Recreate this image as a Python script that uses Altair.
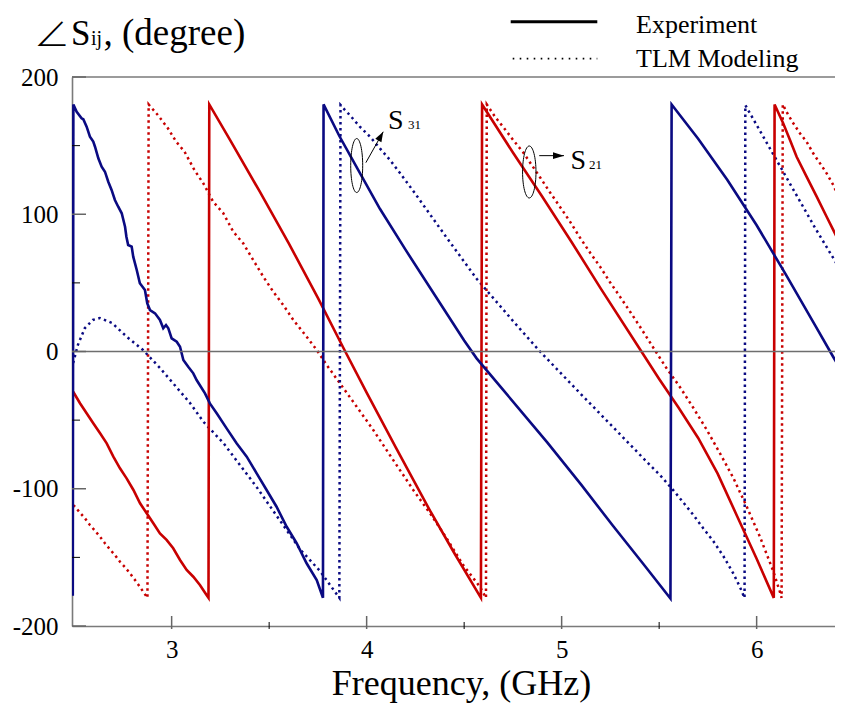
import altair as alt
import pandas as pd

RED = "#c80000"
BLUE = "#0a0a82"
FONT = "Liberation Serif"

# ---- data: (frequency GHz, phase degree) ----
s31_exp = [
    (2.493, -178), (2.496, 180), (2.513, 174.7), (2.538, 169.9), (2.547, 169.2), (2.564, 163.8),
    (2.581, 156.5), (2.598, 152.9), (2.607, 149.2), (2.624, 140.8), (2.641, 134.7), (2.658, 131),
    (2.675, 123.7), (2.692, 117.7), (2.709, 110.4), (2.726, 105.5), (2.744, 100.7), (2.761, 90.9),
    (2.768, 83.6), (2.777, 77.6), (2.795, 76.4), (2.803, 69.1), (2.821, 59.4), (2.837, 49.7),
    (2.863, 44.8), (2.875, 35.1), (2.889, 30.2), (2.915, 27.8), (2.94, 23), (2.957, 16.9),
    (2.971, 19.3), (2.983, 16.9), (3.0, 9.6), (3.026, 7.1), (3.043, 3.5), (3.06, -6.2),
    (3.085, -11.1), (3.111, -15.9), (3.128, -20.8), (3.171, -30.5), (3.196, -37.8), (3.231, -45),
    (3.282, -56), (3.333, -66.9), (3.385, -76.6), (3.436, -88.8), (3.487, -100.9), (3.538, -113.1),
    (3.59, -127.7), (3.641, -139.7), (3.692, -154.3), (3.744, -166.5), (3.776, -179.4),
    (3.779, 180), (3.86, 157), (3.95, 134), (4.068, 104), (4.2, 74), (4.35, 41), (4.5, 8),
    (4.564, -5), (4.7, -28), (4.925, -66), (5.1, -97), (5.263, -127), (5.42, -155), (5.558, -180),
    (5.564, 180), (5.7, 155), (5.85, 125), (6.0, 92), (6.15, 56), (6.3, 19), (6.393, -4),
    (6.443, -16),
]

s31_model = [
    (2.495, -8.4), (2.519, 4.7), (2.555, 17.1), (2.596, 23), (2.632, 24.4), (2.694, 20.8),
    (2.771, 10.6), (2.853, 1.1), (2.94, -12), (3.094, -37.5), (3.164, -51.4), (3.267, -67),
    (3.336, -80), (3.437, -99), (3.54, -120), (3.658, -144), (3.761, -160), (3.86, -179.5),
    (3.866, 179.6), (3.889, 175.9), (3.914, 172.2), (3.965, 163.8), (4.017, 156.5), (4.068, 148),
    (4.12, 139.5), (4.171, 130), (4.239, 117), (4.41, 83), (4.564, 53), (4.752, 22), (4.889, 0),
    (4.923, -5), (5.078, -28), (5.263, -55), (5.436, -80.3), (5.504, -90), (5.572, -101),
    (5.624, -110), (5.675, -119), (5.726, -128.8), (5.777, -138), (5.829, -149),
    (5.88, -161.6), (5.914, -171.5), (5.938, -179.5),
    (5.942, 179.5), (5.96, 175), (6.0, 165), (6.1, 140), (6.2, 115), (6.3, 90), (6.427, 60),
    (6.443, 56),
]

s21_exp = [
    (2.495, -29.3), (2.53, -37.7), (2.564, -45), (2.598, -52.3), (2.633, -59.6), (2.667, -66.9),
    (2.701, -76.6), (2.735, -85.1), (2.769, -92.4), (2.804, -100.9), (2.838, -110.6),
    (2.872, -117.9), (2.906, -125.2), (2.94, -132.5), (2.974, -137.3), (3.008, -143.4),
    (3.043, -151.9), (3.077, -159.2), (3.111, -164.1), (3.145, -170.1), (3.179, -177.4),
    (3.189, -179.5),
    (3.193, 180), (3.3, 154), (3.45, 117), (3.6, 79), (3.75, 39), (3.883, 2), (4.0, -30),
    (4.15, -70), (4.325, -116), (4.45, -147), (4.586, -179.5),
    (4.592, 180), (4.75, 145), (4.9, 113), (5.05, 80), (5.2, 46), (5.4, 2), (5.5, -20),
    (5.6, -41), (5.7, -63), (5.8, -89), (5.9, -120), (6.0, -151), (6.088, -179.5),
    (6.092, 180), (6.136, 166.3), (6.171, 154.1), (6.205, 141.9), (6.256, 127.4), (6.308, 112.8),
    (6.359, 98.2), (6.41, 83.6), (6.443, 76.4),
]

s21_model = [
    (2.495, -112), (2.504, -113.1), (2.53, -117.4), (2.555, -121.5), (2.581, -126.4),
    (2.607, -130.6), (2.632, -134.9), (2.658, -139.7), (2.683, -144.1), (2.709, -148.3),
    (2.735, -153.2), (2.761, -157.2), (2.786, -161.6), (2.812, -166.5), (2.837, -171.4),
    (2.854, -175), (2.876, -179.5),
    (2.882, 180), (2.929, 172.3), (2.981, 162.6), (3.023, 152.9), (3.066, 145.6), (3.117, 132.2),
    (3.162, 122.6), (3.213, 109.1), (3.265, 100.7), (3.316, 87.3), (3.367, 78.8), (3.418, 66.7),
    (3.47, 54.5), (3.521, 43.6), (3.572, 33.9), (3.624, 23), (3.692, 10.8), (3.744, 1.1),
    (3.795, -9.8), (3.863, -23.2), (3.949, -40.2), (4.034, -57.2), (4.119, -75.4),
    (4.239, -100.9), (4.325, -117.9), (4.41, -136.1), (4.495, -155.6), (4.581, -171.4),
    (4.612, -179.5),
    (4.616, 180), (4.658, 171.1), (4.709, 162), (4.752, 154), (4.803, 145), (4.846, 136),
    (4.889, 127), (4.94, 116), (4.991, 105.5), (5.043, 94.6), (5.094, 83), (5.146, 72),
    (5.197, 61.8), (5.248, 50.5), (5.299, 40), (5.351, 29), (5.402, 18), (5.478, 1),
    (5.538, -12.2), (5.607, -26), (5.675, -41), (5.744, -57), (5.812, -74.2), (5.88, -92),
    (5.949, -113), (6.017, -135), (6.085, -160), (6.119, -175), (6.128, -179.5),
    (6.134, 180), (6.162, 172.3), (6.188, 166.3), (6.222, 159), (6.256, 152.9), (6.29, 144.4),
    (6.325, 137.1), (6.359, 129.8), (6.393, 121.3), (6.427, 110.4), (6.443, 106),
]

x_major = [3, 4, 5, 6]
x_minor = [3.5, 4.5, 5.5]
y_major = [-200, -100, 0, 100, 200]
y_minor = [-150, -50, 50, 150]
legend_labels = ["Experiment", "TLM Modeling"]

# annotation anchors (data coordinates)
ellipses = pd.DataFrame({"f": [3.949, 4.834], "deg": [135.5, 130.8]})
arrow1 = pd.DataFrame({"f": [3.996], "deg": [137.6], "f2": [4.085], "deg2": [160.1]})
arrow2 = pd.DataFrame({"f": [4.885], "deg": [142.7], "f2": [5.012], "deg2": [142.7]})
labels_big = pd.DataFrame({"f": [4.109, 5.046], "deg": [162.1, 132.8], "t": ["S", "S"]})
labels_sub = pd.DataFrame({"f": [4.212, 5.140], "deg": [162.1, 132.8], "t": ["31", "21"]})

PW, PH = 763, 549          # plot area (page: x 72..835, y 77..626)
F0 = 2.489
F1 = F0 + PW / 195.0       # 195 px per GHz


def frame(pairs, name):
    return pd.DataFrame({
        "f": [p[0] for p in pairs],
        "deg": [p[1] for p in pairs],
        "i": list(range(len(pairs))),
        "series": name,
    })


exp_df = pd.concat([frame(s21_exp, "S21"), frame(s31_exp, "S31")], ignore_index=True)
mod_df = pd.concat([frame(s21_model, "S21"), frame(s31_model, "S31")], ignore_index=True)

xs = alt.Scale(domain=[F0, F1], nice=False, zero=False)
ys = alt.Scale(domain=[-200, 200], nice=False, zero=False)

xaxis = alt.Axis(values=x_major, ticks=False, tickSize=0, labelPadding=11, labelFontSize=25,
                 labelFont=FONT, labelColor="black", labelFlush=False, domainColor="#7a7a7a",
                 domainWidth=1.6, grid=False, title="Frequency, (GHz)", titleFontSize=36,
                 titleFont=FONT, titleFontWeight="normal", titleColor="black", titleX=389,
                 titleY=68, titleAlign="center", titleBaseline="alphabetic")
yaxis = alt.Axis(values=y_major, ticks=False, tickSize=0, labelPadding=14, labelFontSize=25,
                 labelFont=FONT, labelColor="black", labelFlush=False, domainColor="#7a7a7a",
                 domainWidth=1.6, grid=False, title=None, labelExpr="'' + datum.value")

X = alt.X("f:Q", scale=xs, axis=xaxis)
Y = alt.Y("deg:Q", scale=ys, axis=yaxis)
color = alt.Color("series:N", scale=alt.Scale(domain=["S21", "S31"], range=[RED, BLUE]), legend=None)

model = alt.Chart(mod_df).mark_line(strokeWidth=2.5, strokeDash=[2.4, 3.6], clip=True).encode(
    x=X, y=Y, color=color, detail="series:N", order="i:Q")
exper = alt.Chart(exp_df).mark_line(strokeWidth=2.6, clip=True).encode(
    x=X, y=Y, color=color, detail="series:N", order="i:Q")

zero = alt.Chart(pd.DataFrame({"deg": [0]})).mark_rule(color="#6e6e6e", strokeWidth=1.6).encode(
    y=Y, x=alt.value(0), x2=alt.value(PW))
top = alt.Chart(pd.DataFrame({"deg": [200]})).mark_rule(color="#7a7a7a", strokeWidth=1.6).encode(
    y=Y, x=alt.value(0), x2=alt.value(PW))

yt_major = alt.Chart(pd.DataFrame({"deg": y_major})).mark_rule(color="#666", strokeWidth=1.5).encode(
    y=Y, x=alt.value(0), x2=alt.value(14))
yt_minor = alt.Chart(pd.DataFrame({"deg": y_minor})).mark_rule(color="black", strokeWidth=1).encode(
    y=Y, x=alt.value(0), x2=alt.value(8))
xt_major = alt.Chart(pd.DataFrame({"f": x_major})).mark_rule(color="#666", strokeWidth=1.5).encode(
    x=X, y=alt.value(PH - 10), y2=alt.value(PH + 3))
xt_minor = alt.Chart(pd.DataFrame({"f": x_minor})).mark_rule(color="black", strokeWidth=1).encode(
    x=X, y=alt.value(PH - 4), y2=alt.value(PH + 3))


def ellipse_path(a):
    k = 0.5523
    return (f"M {a:.3f},0 C {a:.3f},{k} {k*a:.3f},1 0,1 C {-k*a:.3f},1 {-a:.3f},{k} {-a:.3f},0 "
            f"C {-a:.3f},{-k} {-k*a:.3f},-1 0,-1 C {k*a:.3f},-1 {a:.3f},{-k} {a:.3f},0 Z")


ell1 = alt.Chart(ellipses.iloc[[0]]).mark_point(shape=ellipse_path(0.222), size=2916, filled=False,
                                                 stroke="black", strokeWidth=1, opacity=1).encode(x=X, y=Y)
ell2 = alt.Chart(ellipses.iloc[[1]]).mark_point(shape=ellipse_path(0.258), size=2704, filled=False,
                                                 stroke="black", strokeWidth=1, opacity=1).encode(x=X, y=Y)

arr1 = alt.Chart(arrow1).mark_rule(color="black", strokeWidth=1).encode(
    x=X, y=Y, x2="f2:Q", y2="deg2:Q")
arr2 = alt.Chart(arrow2).mark_rule(color="black", strokeWidth=1).encode(
    x=X, y=Y, x2="f2:Q", y2="deg2:Q")
head1 = alt.Chart(arrow1).mark_point(shape="M 0,0 L -0.35,1 L 0.35,1 Z", size=400, filled=True,
                                     color="black", opacity=1, angle=29.2).encode(
    x=alt.X("f2:Q", scale=xs, axis=xaxis), y=alt.Y("deg2:Q", scale=ys, axis=yaxis))
head2 = alt.Chart(arrow2).mark_point(shape="M 0,0 L -0.3,1 L 0.3,1 Z", size=484, filled=True,
                                     color="black", opacity=1, angle=90).encode(
    x=alt.X("f2:Q", scale=xs, axis=xaxis), y=alt.Y("deg2:Q", scale=ys, axis=yaxis))

sbig = alt.Chart(labels_big).mark_text(font=FONT, fontSize=28, align="left", baseline="alphabetic",
                                       color="black").encode(x=X, y=Y, text="t:N")
ssub = alt.Chart(labels_sub).mark_text(font=FONT, fontSize=13, align="left", baseline="alphabetic",
                                       color="black").encode(x=X, y=Y, text="t:N")

one = pd.DataFrame({"a": [0]})


def label(txt, x, y, size, font=FONT, weight="normal"):
    return alt.Chart(one).mark_text(text=txt, font=font, fontSize=size, fontWeight=weight,
                                    align="left", baseline="alphabetic", color="black").encode(
        x=alt.value(x), y=alt.value(y))


t_angle = label("∠", -38, -30, 36, font="Noto Sans CJK JP", weight=300)
t_S = label("S", -1, -32, 35)
t_ij = label("ij", 19, -32, 20)
t_rest = label(", (degree)", 31.5, -32, 37)

leg_solid = alt.Chart(one).mark_rule(color="black", strokeWidth=3).encode(
    x=alt.value(438.7), x2=alt.value(525.3), y=alt.value(-55.3))
leg_dot = alt.Chart(one).mark_rule(color="black", strokeWidth=1.8, strokeDash=[1.6, 5.4]).encode(
    x=alt.value(440.7), x2=alt.value(525.3), y=alt.value(-18.3))
leg_t1 = label(legend_labels[0], 564, -44.3, 26)
leg_t2 = label(legend_labels[1], 564, -10.3, 26)

chart = alt.layer(
    model, exper, zero, top, yt_major, yt_minor, xt_major, xt_minor,
    ell1, ell2, arr1, arr2, head1, head2, sbig, ssub,
    t_angle, t_S, t_ij, t_rest, leg_solid, leg_dot, leg_t1, leg_t2,
).properties(
    width=PW, height=PH,
    padding={"left": 64, "top": 69, "right": 0, "bottom": 78},
    autosize=alt.AutoSizeParams(type="none"),
).configure_view(strokeWidth=0)

chart.save("out.html", embed_options={"renderer": "svg", "actions": False})
